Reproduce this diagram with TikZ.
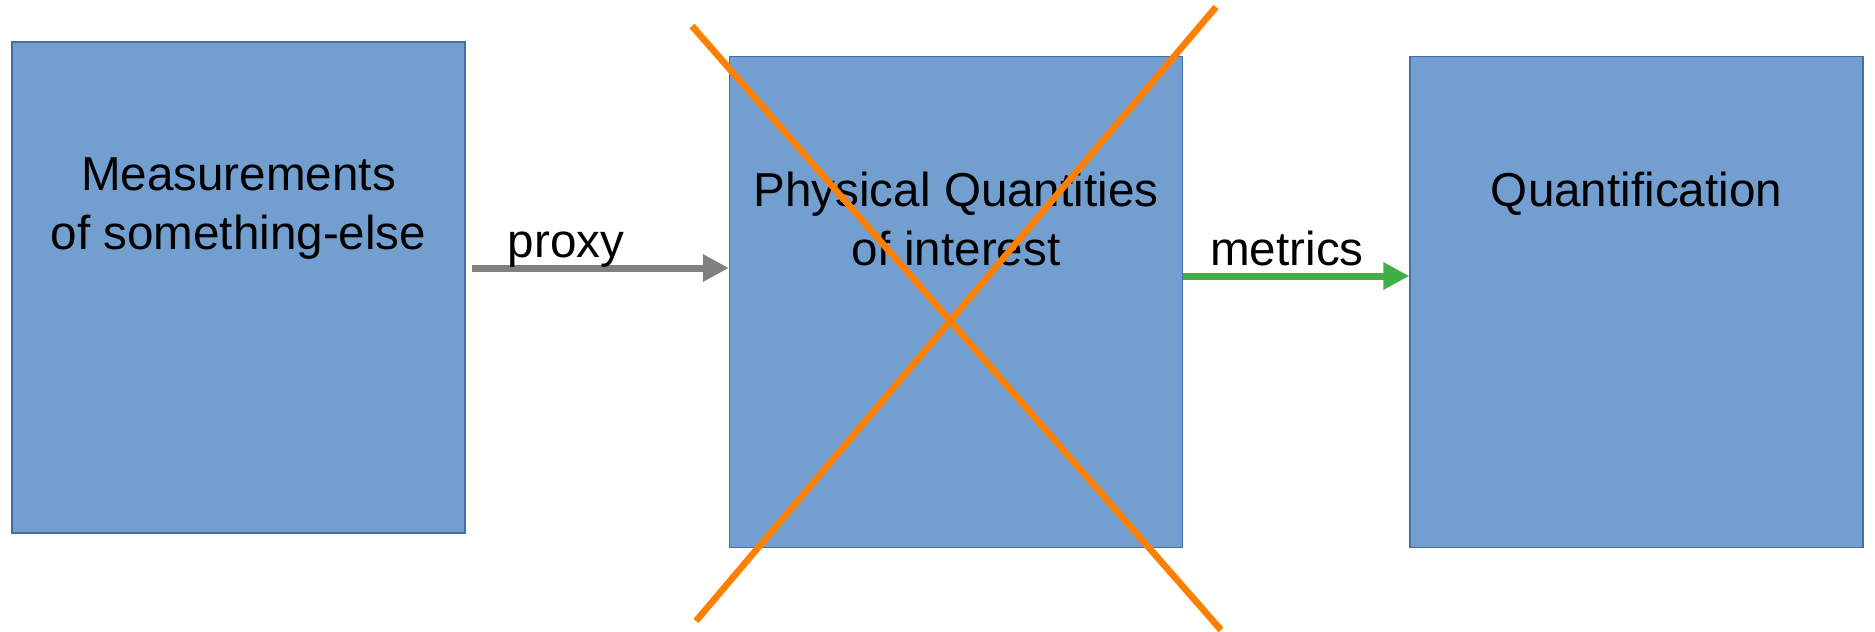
\documentclass[tikz,border=0pt]{standalone}
\usepackage{fontspec}
\setmainfont{Liberation Sans}
\usetikzlibrary{arrows.meta, positioning, calc}
\definecolor{boxblue}{RGB}{114,159,207}
\definecolor{boxedge}{RGB}{66,110,170}
\definecolor{crossorange}{RGB}{255,128,0}
\definecolor{proxygray}{RGB}{128,128,128}
\definecolor{metricgreen}{RGB}{63,175,70}
\tikzset{
  stage/.style={
    rectangle,
    draw=boxedge,
    fill=boxblue,
    line width=0.7pt,
    minimum width=226.5pt,
    minimum height=245.5pt,
    inner sep=0pt
  },
  caption/.style={
    align=center,
    anchor=north,
    inner sep=0pt,
    font=\fontsize{23.8}{29.3}\selectfont
  },
  tag/.style={
    anchor=base,
    inner sep=0pt,
    font=\fontsize{23.8}{29.3}\selectfont
  },
  arrow/.style={-{Triangle[length=13pt,width=13pt]}, line width=3.5pt},
  cross/.style={crossorange, line width=3.3pt}
}

\begin{document}
\begin{tikzpicture}[x=0.5pt, y=-0.5pt]
  \useasboundingbox (0,0) rectangle (1875,632);

  \node[stage] (meas) at (238.5,287.5) {};
  \node[stage] (phys) at (956,302) {};
  \node[stage] (quant) at (1636.5,302) {};

  \node[caption] (meastxt) at ([yshift=-58pt]meas.north) {Measurements\\of something-else};
  \node[caption] (phystxt) at ([yshift=-58pt]phys.north) {Physical Quantities\\of interest};
  \node[caption] (quanttxt) at ([yshift=-58pt]quant.north) {Quantification};

  \coordinate (proxystart) at ([shift={(3pt,9.75pt)}]meas.east);
  \draw[arrow, proxygray] (proxystart) -- (proxystart -| phys.west);
  \node[tag] (proxylbl) at (566,257) {proxy};

  \draw[arrow, metricgreen] ([yshift=13pt]phys.east) -- ([yshift=13pt]quant.west);
  \node[tag] (metricslbl) at (1287,265) {metrics};

  % crossed out
  \coordinate (xa) at (692,26);
  \coordinate (xb) at (1221,630);
  \coordinate (xc) at (1216,7);
  \coordinate (xd) at (696,621);
  \draw[cross] (xa) -- (xb);
  \draw[cross] (xc) -- (xd);
\end{tikzpicture}
\end{document}
